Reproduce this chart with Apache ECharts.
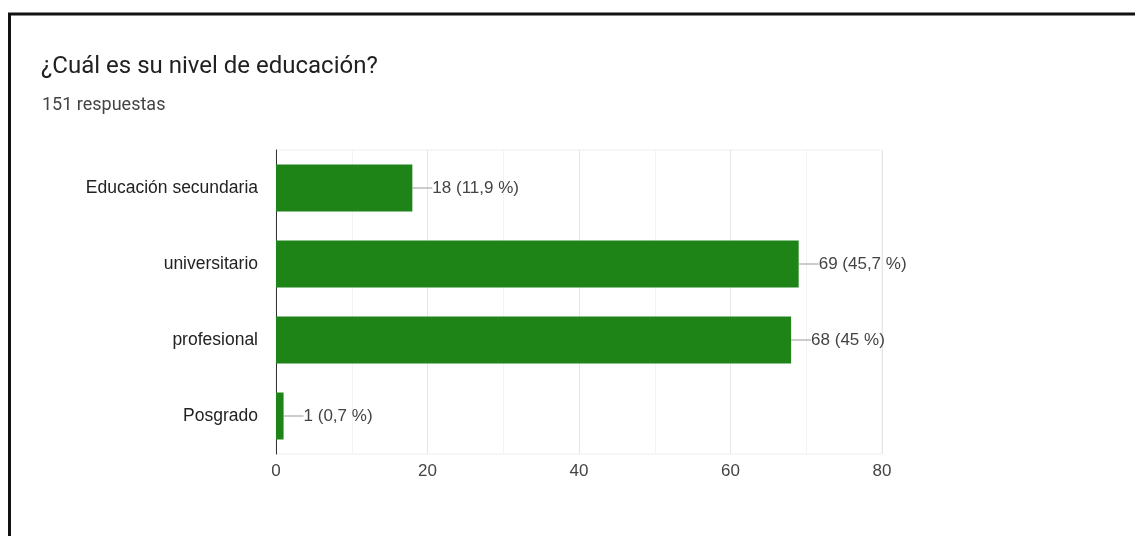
<!DOCTYPE html>
<html>
<head>
<meta charset="utf-8">
<script src="https://cdn.jsdelivr.net/npm/echarts@6/dist/echarts.min.js"></script>
<style>
html,body{margin:0;padding:0;background:#fff;}
#chart{width:1135px;height:536px;}
</style>
</head>
<body>
<div id="chart"></div>
<script>
const categories = ['Educación secundaria', 'universitario', 'profesional', 'Posgrado'];
const counts = [18, 69, 68, 1];
const percents = ['11,9', '45,7', '45', '0,7'];
const xTicks = [0, 20, 40, 60, 80];

const chart = echarts.init(document.getElementById('chart'));
chart.setOption({
  animation: false,
  backgroundColor: '#ffffff',
  title: [
    { text: '¿Cuál es su nivel de educación?', left: 36, top: 50,
      textStyle: { fontFamily: 'Roboto', fontSize: 24, fontWeight: 'normal', color: '#212121' } },
    { text: '151 respuestas', left: 37, top: 91,
      textStyle: { fontFamily: 'Roboto', fontSize: 18, fontWeight: 'normal', color: '#444444' } }
  ],
  graphic: [
    { type: 'line', shape: { x1: 8, y1: 14, x2: 1135, y2: 14 }, style: { stroke: '#111', lineWidth: 3 } },
    { type: 'line', shape: { x1: 9.5, y1: 13, x2: 9.5, y2: 536 }, style: { stroke: '#111', lineWidth: 3 } }
  ],
  grid: { left: 276, right: 253, top: 150, height: 304, show: true, borderColor: '#eeeeee', borderWidth: 1 },
  xAxis: {
    type: 'value', min: xTicks[0], max: xTicks[xTicks.length - 1], interval: 20,
    axisLine: { show: false }, axisTick: { show: false },
    axisLabel: { fontFamily: 'Liberation Sans', fontSize: 17, color: '#444', margin: 9 },
    splitLine: { show: true, lineStyle: { color: '#e6e6e6' } },
    minorTick: { show: false, splitNumber: 2 },
    minorSplitLine: { show: true, lineStyle: { color: '#f3f3f3' } }
  },
  yAxis: {
    type: 'category', data: categories, inverse: true,
    axisLine: { show: true, lineStyle: { color: '#333', width: 1 } },
    axisTick: { show: false },
    axisLabel: { fontFamily: 'Liberation Sans', fontSize: 17.5, color: '#222', margin: 18 }
  },
  series: [{
    type: 'bar', data: counts, barWidth: 47,
    itemStyle: { color: '#1e8418' },
    label: {
      show: true, position: 'right', distance: 0,
      formatter: p => p.value + ' (' + percents[p.dataIndex] + ' %)',
      fontFamily: 'Liberation Sans', fontSize: 17, color: '#444'
    },
    labelLayout: { dx: 20 },
    labelLine: { show: true, lineStyle: { color: '#999', width: 1 } }
  }]
});
</script>
</body>
</html>
